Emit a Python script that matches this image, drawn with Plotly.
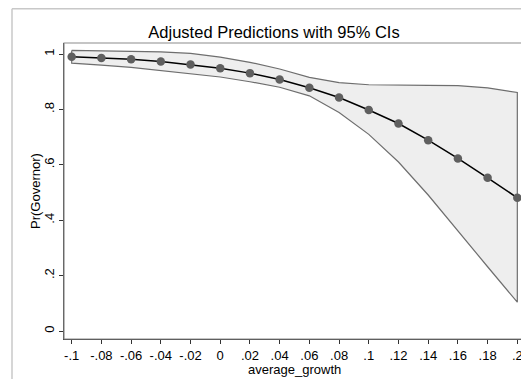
import plotly.graph_objects as go

growth = [-0.1, -0.08, -0.06, -0.04, -0.02, 0.0, 0.02, 0.04, 0.06, 0.08,
          0.1, 0.12, 0.14, 0.16, 0.18, 0.2]
pred = [0.99, 0.986, 0.981, 0.973, 0.962, 0.949, 0.931, 0.908, 0.878, 0.843,
        0.798, 0.749, 0.689, 0.623, 0.553, 0.481]
upper = [1.013, 1.012, 1.011, 1.008, 1.002, 0.989, 0.970, 0.946, 0.916, 0.897,
         0.889, 0.887, 0.887, 0.886, 0.878, 0.861]
lower = [0.967, 0.960, 0.952, 0.942, 0.929, 0.917, 0.900, 0.880, 0.849, 0.789,
         0.710, 0.610, 0.491, 0.360, 0.232, 0.104]

x_ticks = [-0.1, -0.08, -0.06, -0.04, -0.02, 0, 0.02, 0.04, 0.06, 0.08,
           0.1, 0.12, 0.14, 0.16, 0.18, 0.2]
x_labels = ["-.1", "-.08", "-.06", "-.04", "-.02", "0", ".02", ".04", ".06", ".08",
            ".1", ".12", ".14", ".16", ".18", ".2"]
y_ticks = [0, 0.2, 0.4, 0.6, 0.8, 1]
y_labels = ["0", ".2", ".4", ".6", ".8", "1"]

font = "Liberation Sans, Arial, sans-serif"

# the page has an 8px body margin; the figure is sized so nothing overflows
W, H = 521, 371
L, T, PW, PH = 56, 35, 460, 296

fig = go.Figure()
fig.add_trace(go.Scatter(
    x=growth + growth[::-1] + [growth[0]],
    y=upper + lower[::-1] + [upper[0]],
    fill="toself", fillcolor="#EEEEEE",
    line=dict(color="#6E6E6E", width=1.2),
    mode="lines", hoverinfo="skip", showlegend=False))
fig.add_trace(go.Scatter(
    x=growth, y=pred, mode="lines+markers",
    line=dict(color="black", width=1.5),
    marker=dict(color="#5F5F5F", size=8.5),
    showlegend=False))

bx = (4 - L) / PW
by = (T + PH - 0.75) / PH
fig.add_shape(type="line", xref="paper", yref="paper",
              x0=bx, x1=bx, y0=-0.3, y1=by,
              line=dict(color="#C8C8C8", width=1.5))
fig.add_shape(type="line", xref="paper", yref="paper",
              x0=bx, x1=1.2, y0=by, y1=by,
              line=dict(color="#C8C8C8", width=1.5))
fig.add_shape(type="rect", xref="paper", yref="paper", x0=0, x1=1, y0=0, y1=1,
              line=dict(color="#8C8C8C", width=1.2), layer="above")

fig.add_annotation(text="average_growth", xref="paper", yref="paper",
                   x=0.5, y=(T + PH - 361.5) / PH, xanchor="center", yanchor="middle",
                   showarrow=False, font=dict(size=13, family=font, color="black"))
fig.add_annotation(text="Pr(Governor)", xref="paper", yref="paper",
                   x=(27 - L) / PW, y=0.5, xanchor="center", yanchor="middle",
                   textangle=-90, showarrow=False,
                   font=dict(size=13, family=font, color="black"))

fig.update_layout(
    width=W, height=H,
    margin=dict(l=L, r=W - L - PW, t=T, b=H - T - PH, autoexpand=False),
    paper_bgcolor="white", plot_bgcolor="white",
    font=dict(family=font, size=13, color="black"),
    title=dict(text="Adjusted Predictions with 95% CIs", x=266 / W, xanchor="center",
               y=1 - 24 / H, yanchor="middle", font=dict(size=16.5, color="black")),
    xaxis=dict(range=[-0.10518, 0.2045], tickvals=x_ticks, ticktext=x_labels,
               showgrid=False, zeroline=False, ticks="outside", ticklen=4,
               tickcolor="#333333", showline=True, linecolor="#333333", linewidth=1,
               tickfont=dict(size=13), automargin=False),
    yaxis=dict(range=[-0.0289, 1.0398], tickvals=y_ticks, ticktext=y_labels,
               showgrid=False, zeroline=False, ticks="outside", ticklen=4,
               tickcolor="#333333", showline=True, linecolor="#333333", linewidth=1,
               tickangle=-90, tickfont=dict(size=13), automargin=False),
)

fig.write_html("out.html")
